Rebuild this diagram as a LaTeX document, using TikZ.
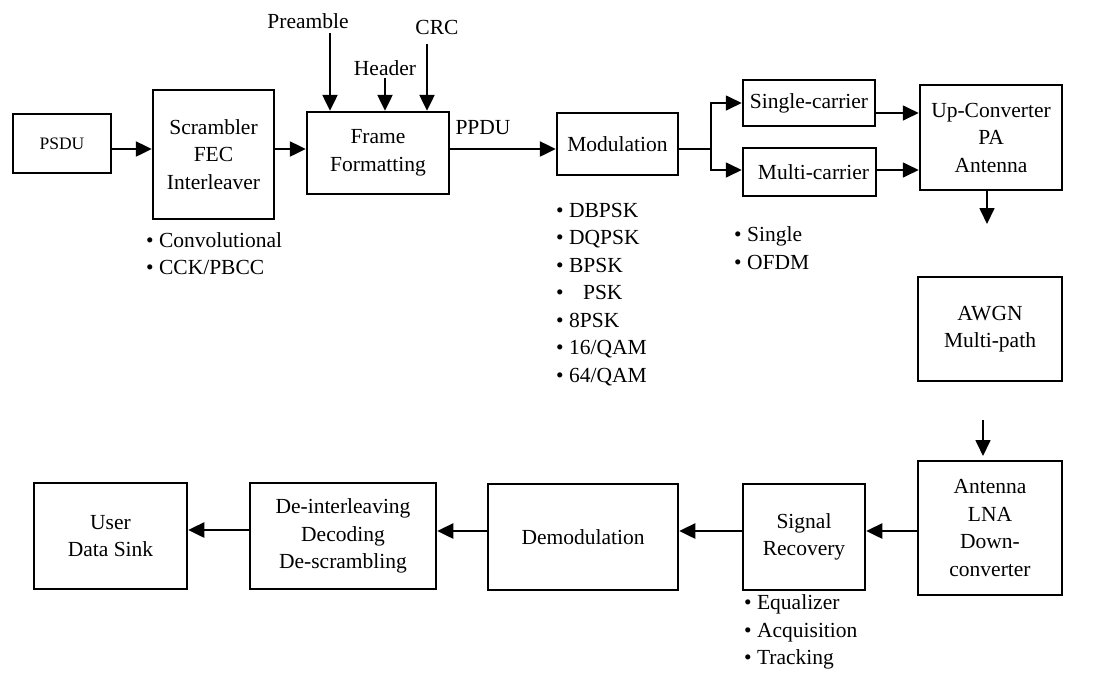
\documentclass[tikz,border=0pt]{standalone}
\usepackage{fontspec}
\setmainfont{Liberation Serif}
\usetikzlibrary{arrows.meta,calc}
\begin{document}
\begin{tikzpicture}[x=1pt,y=-1pt,
  every node/.style={font=\fontsize{21.5}{27.5}\selectfont},
  blk/.style={draw,line width=2.5pt,align=center,inner sep=2pt},
  lbl/.style={inner sep=0pt},
  lst/.style={align=left,inner sep=0pt,anchor=west},
  arr/.style={line width=2.5pt,-{Triangle[length=16pt,width=15pt]}},
  thinarr/.style={line width=1.7pt,-{Triangle[length=16pt,width=15pt]}},
  thinline/.style={line width=1.7pt}]
\useasboundingbox (0,0) rectangle (1093,673);

% transmitter chain
\node[blk,minimum width=98pt,minimum height=59pt,font=\fontsize{17.5}{21}\selectfont] (psdu) at (62,143.5) {PSDU};
\node[blk,minimum width=121pt,minimum height=129pt] (scr) at (213.5,154.5) {Scrambler\\FEC\\Interleaver};
\node[blk,minimum width=142pt,minimum height=82pt] (frame) at (378,153) {Frame\\Formatting};
\node[blk,minimum width=121pt,minimum height=62pt] (mod) at (617.5,144) {Modulation};
\node[blk,minimum width=132pt,minimum height=46pt] (sc) at (809,103) {Single-carrier};
\node[blk,minimum width=133pt,minimum height=48pt] (mc) at (809.5,172) {\hspace{8pt}Multi-carrier};
\node[blk,minimum width=142pt,minimum height=105pt] (up) at (991,137.5) {Up-Converter\\PA\\Antenna};

% channel
\node[blk,minimum width=144pt,minimum height=104pt] (awgn) at (990,329) {AWGN\\Multi-path};

% receiver chain
\node[blk,minimum width=144pt,minimum height=134pt] (ant) at (990,528) {Antenna\\LNA\\Down-\\converter};
\node[blk,minimum width=122pt,minimum height=106pt] (sig) at (804,537) {Signal\\Recovery};
\node[blk,minimum width=190pt,minimum height=106pt] (demod) at (583,537) {Demodulation};
\node[blk,minimum width=186pt,minimum height=106pt] (deint) at (343,536) {De-interleaving\\Decoding\\De-scrambling};
\node[blk,minimum width=153pt,minimum height=106pt] (user) at (110.5,536) {User\\Data Sink};

% frame field labels
\node[lbl] (pre) at (308,21) {Preamble};
\node[lbl] (hdr) at (385,68) {Header};
\node[lbl] (crc) at (437,27) {CRC};
\node[lbl] (ppdu) at (483,128) {PPDU};

% option lists
\node[lst] (conv) at (146,253.5) {• Convolutional\\• CCK/PBCC};
\node[lst] (mods) at (556,294.5) {• DBPSK\\• DQPSK\\• BPSK\\•\hspace{0.9em}PSK\\• 8PSK\\• 16/QAM\\• 64/QAM};
\node[lst] (carr) at (734,248) {• Single\\• OFDM};
\node[lst] (rec) at (744,632) {• Equalizer\\• Acquisition\\• Tracking};

% free ends of the channel arrows
\coordinate (upend) at (987,224);
\coordinate (chstart) at (983,420);
\coordinate (chend) at (983,456);
\coordinate (split) at (711,149);

% transmitter connectors
\draw[arr] ([yshift=-5.5pt]psdu.east) -- ([yshift=-5.5pt]psdu.east -| scr.west);
\draw[arr] ([yshift=5.5pt]scr.east) -- ([yshift=5.5pt]scr.east -| frame.west);
\draw[arr] ([yshift=4pt]frame.east) -- ([yshift=4pt]frame.east -| mod.west);
\draw[arr] ([xshift=22pt,yshift=-4pt]pre.south) -- ([xshift=22pt]pre.south |- frame.north);
\draw[arr] ([yshift=-2pt]hdr.south) -- (hdr.south |- frame.north);
\draw[arr] ([xshift=-10pt,yshift=-10pt]crc.south) -- ([xshift=-10pt]crc.south |- frame.north);
\draw[thinline] ([yshift=-5pt]mod.east) -- (split);
\draw[thinarr] (split) |- (sc.west);
\draw[thinarr] (split) |- ([yshift=2pt]mc.west);
\draw[thinarr] ([yshift=-10pt]sc.east) -- ([yshift=-10pt]sc.east -| up.west);
\draw[thinarr] ([yshift=2pt]mc.east) -- ([yshift=2pt]mc.east -| up.west);
\draw[thinarr] (up.south -| upend) -- (upend);

% channel to receiver
\draw[thinarr] (chstart) -- (chend);

% receiver connectors
\draw[arr] ([yshift=-3pt]ant.west) -- ([yshift=-3pt]ant.west -| sig.east);
\draw[arr] ([yshift=6pt]sig.west) -- ([yshift=6pt]sig.west -| demod.east);
\draw[arr] ([yshift=6pt]demod.west) -- ([yshift=6pt]demod.west -| deint.east);
\draw[arr] ([yshift=6pt]deint.west) -- ([yshift=6pt]deint.west -| user.east);
\end{tikzpicture}
\end{document}
